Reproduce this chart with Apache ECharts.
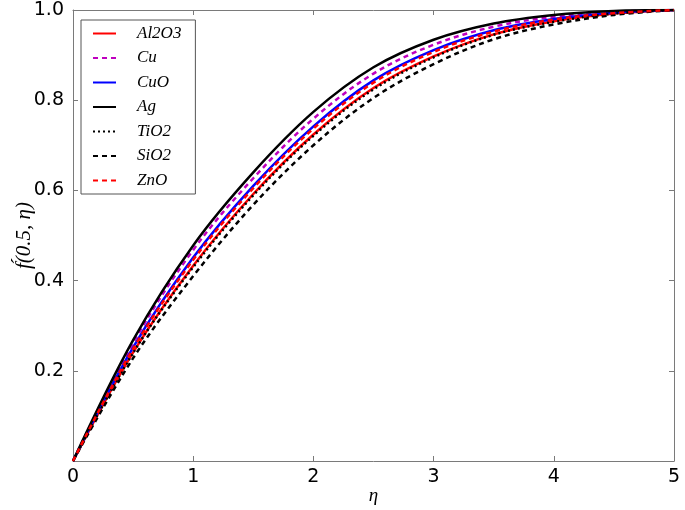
<!DOCTYPE html>
<html>
<head>
<meta charset="utf-8">
<script src="https://cdn.jsdelivr.net/npm/echarts@6/dist/echarts.min.js"></script>
<style>
  html, body { margin: 0; padding: 0; background: #fff; }
  #chart { width: 685px; height: 510px; }
</style>
</head>
<body>
<div id="chart"></div>
<script>
// η 取值点
const eta = [0, 0.5, 1, 1.5, 2, 2.5, 3, 3.5, 4, 4.5, 5];

// 各纳米流体的 f'(0.5, η)
const al2o3 = [0, 0.241, 0.433, 0.592, 0.724, 0.827, 0.897, 0.946, 0.975, 0.992, 1.0];
const cu    = [0, 0.262, 0.468, 0.627, 0.759, 0.859, 0.923, 0.963, 0.985, 0.996, 1.0];
const cuo   = [0, 0.252, 0.451, 0.610, 0.742, 0.844, 0.911, 0.955, 0.980, 0.994, 1.0];
const ag    = [0, 0.268, 0.478, 0.640, 0.774, 0.873, 0.934, 0.970, 0.989, 0.998, 1.0];
const tio2  = [0, 0.240, 0.430, 0.589, 0.721, 0.824, 0.895, 0.945, 0.974, 0.992, 1.0];
const sio2  = [0, 0.228, 0.410, 0.568, 0.700, 0.805, 0.880, 0.935, 0.968, 0.989, 1.0];
const zno   = [0, 0.249, 0.446, 0.605, 0.737, 0.839, 0.907, 0.952, 0.979, 0.993, 1.0];

const axisGray = '#7a7a7a';
const mathFont = '"Liberation Serif", "DejaVu Serif", serif';

function pts(arr) {
  return eta.map((x, i) => [x, arr[i]]);
}

function line(name, arr, color, type) {
  return {
    name: name,
    type: 'line',
    data: pts(arr),
    smooth: 0.35,
    symbol: 'none',
    lineStyle: { color: color, width: 2.5, type: type },
    itemStyle: { color: color },
    z: 3
  };
}

const chart = echarts.init(document.getElementById('chart'));

chart.setOption({
  animation: false,
  backgroundColor: '#fff',
  grid: { left: 73, right: 11, top: 10, bottom: 49, outerBoundsMode: 'none', containLabel: false },
  legend: {
    orient: 'vertical',
    left: 81,
    top: 20,
    padding: [5, 14, 5, 11],
    itemWidth: 23,
    itemHeight: 14,
    itemGap: 7.5,
    backgroundColor: '#fff',
    borderColor: '#555',
    borderWidth: 1,
    itemStyle: { opacity: 0 },
    textStyle: {
      fontFamily: mathFont,
      fontStyle: 'italic',
      fontSize: 17,
      lineHeight: 14,
      color: '#000',
      padding: [0, 0, 0, 16]
    },
    data: ['Al2O3', 'Cu', 'CuO', 'Ag', 'TiO2', 'SiO2', 'ZnO']
  },
  xAxis: [
    {
      type: 'value',
      min: 0, max: 5, interval: 1,
      name: 'η',
      nameLocation: 'middle',
      nameGap: 25,
      nameMoveOverlap: false,
      nameTextStyle: { fontFamily: mathFont, fontStyle: 'italic', fontSize: 19, color: '#000' },
      axisLine: { onZero: false, lineStyle: { color: axisGray, width: 1 } },
      axisTick: { inside: true, length: 5, lineStyle: { color: axisGray } },
      axisLabel: { color: '#000', fontSize: 19, margin: 7, fontFamily: 'DejaVu Sans' },
      splitLine: { show: false }
    },
    {
      type: 'value',
      position: 'top',
      min: 0, max: 5, interval: 1,
      axisLine: { onZero: false, lineStyle: { color: axisGray, width: 1 } },
      axisTick: { inside: true, length: 5, lineStyle: { color: axisGray } },
      axisLabel: { show: false },
      splitLine: { show: false }
    }
  ],
  yAxis: [
    {
      type: 'value',
      min: 0, max: 1, interval: 0.2,
      name: 'f\u0301(0.5, η)',
      nameLocation: 'middle',
      nameGap: 38,
      nameMoveOverlap: false,
      nameTextStyle: { fontFamily: mathFont, fontStyle: 'italic', fontSize: 21, color: '#000' },
      axisLine: { show: true, onZero: false, lineStyle: { color: axisGray, width: 1 } },
      axisTick: { show: true, inside: true, length: 5, lineStyle: { color: axisGray } },
      axisLabel: {
        color: '#000', fontSize: 19, margin: 9, fontFamily: 'DejaVu Sans',
        formatter: v => (v === 0 ? '' : v.toFixed(1))
      },
      splitLine: { show: false }
    },
    {
      type: 'value',
      position: 'right',
      min: 0, max: 1, interval: 0.2,
      axisLine: { show: true, onZero: false, lineStyle: { color: axisGray, width: 1 } },
      axisTick: { show: true, inside: true, length: 5, lineStyle: { color: axisGray } },
      axisLabel: { show: false },
      splitLine: { show: false }
    }
  ],
  series: [
    line('Al2O3', al2o3, '#ff0000', 'solid'),
    line('Cu', cu, '#bf00bf', [5, 4]),
    line('CuO', cuo, '#0000ff', 'solid'),
    line('Ag', ag, '#000000', 'solid'),
    line('TiO2', tio2, '#000000', [2, 3]),
    line('SiO2', sio2, '#000000', [5, 4]),
    line('ZnO', zno, '#ff0000', [5, 4])
  ]
});
</script>
</body>
</html>
